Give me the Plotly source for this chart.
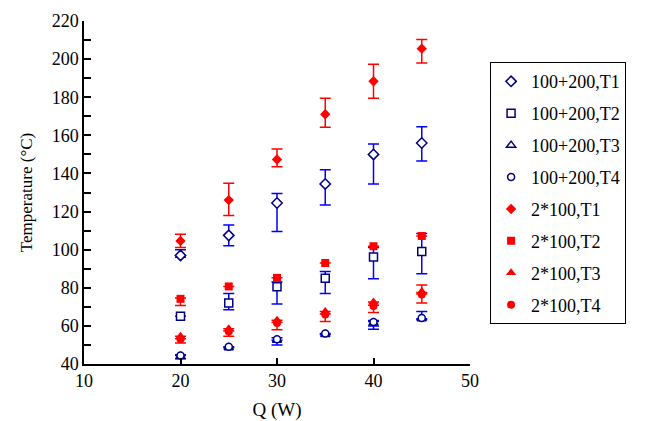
import plotly.graph_objects as go

Q = [20, 25, 30, 35, 40, 45]

# 100+200 series (blue)
b_T1 = [97, 107.5, 124.5, 134.5, 150, 156]
b_T1_plus = [3, 5.5, 5, 7.5, 5.5, 8.5]
b_T1_minus = [1, 5.5, 15, 11, 15.5, 9.5]

b_T2 = [65, 72, 80.5, 85, 96.2, 99]
b_T2_plus = [None, 5, 2.5, 3.5, 5, 9.5]
b_T2_minus = [None, 3.5, 9, 8, 11.5, 11.7]

b_T3 = [44, 48.5, 52.5, 55.5, 61.5, 63.8]
b_T3_plus = [0.8, None, None, None, 0.8, None]
b_T3_minus = [1.2, None, None, None, 3.3, None]

b_T4 = [44.5, 49, 53, 56, 62, 64.2]
b_T4_plus = [None, None, 0.8, None, 0.8, 3.4]
b_T4_minus = [None, None, 3, None, 2, 0.8]

# 2*100 series (red)
r_T1 = [104.6, 126, 147.3, 171.1, 188.4, 205.5]
r_T1_plus = [3.5, 8.8, 5.5, 8.3, 8.9, 4.8]
r_T1_minus = [3.5, 8.1, 3.8, 6.9, 9, 7.5]

r_T2 = [74.2, 80.7, 85.2, 93, 101.8, 107.2]
r_T2_plus = [0.5, None, None, None, None, None]
r_T2_minus = [3.5, None, None, None, None, None]

r_T3 = [54.5, 58.5, 63, 67.5, 72.5, 78]
r_T3_plus = [None, None, None, None, None, 3.5]
r_T3_minus = [None, None, None, None, None, 0.5]

r_T4 = [53, 57, 61.5, 66, 70.5, 76.5]
r_T4_plus = [0.3, 0.3, 0.3, 0.3, 0.3, 0.3]
r_T4_minus = [2, 2.5, 3.5, 3.7, 3.5, 4.5]

x_ticks = [10, 20, 30, 40, 50]
y_ticks = [40, 60, 80, 100, 120, 140, 160, 180, 200, 220]

NAVY = "#000080"
BLUE = "#0000FF"
RED = "#FF0000"

series = [
    ("100+200,T1", b_T1, b_T1_plus, b_T1_minus, "diamond", 8, True),
    ("100+200,T2", b_T2, b_T2_plus, b_T2_minus, "square", 8, True),
    ("100+200,T3", b_T3, b_T3_plus, b_T3_minus, "triangle-up", 8, True),
    ("100+200,T4", b_T4, b_T4_plus, b_T4_minus, "circle", 7, True),
    ("2*100,T1", r_T1, r_T1_plus, r_T1_minus, "diamond", 8, False),
    ("2*100,T2", r_T2, r_T2_plus, r_T2_minus, "square", 8, False),
    ("2*100,T3", r_T3, r_T3_plus, r_T3_minus, "triangle-up", 9, False),
    ("2*100,T4", r_T4, r_T4_plus, r_T4_minus, "circle", 8, False),
]

fig = go.Figure()
for i, (name, y, plus, minus, sym, size, blue) in enumerate(series):
    if blue:
        marker = dict(symbol=sym, size=size, color="white",
                      line=dict(color=NAVY, width=1.5))
        ecol = BLUE
    else:
        marker = dict(symbol=sym, size=size, color=RED,
                      line=dict(color=RED, width=0))
        ecol = RED
    fig.add_trace(go.Scatter(
        x=Q, y=y, name=name, mode="markers", marker=marker,
        legendgroup="g%d" % i,
        error_y=dict(type="data", symmetric=False, array=plus,
                     arrayminus=minus, color=ecol, thickness=1.5, width=5.5),
    ))

font = "Liberation Serif"
fig.update_layout(
    width=649, height=421,
    margin=dict(l=83.5, r=179, t=20.7, b=56.7, autoexpand=False),
    paper_bgcolor="white", plot_bgcolor="white",
    font=dict(family=font, size=18, color="black"),
    showlegend=True,
    legend=dict(x=1.052, y=0.88, xanchor="left", yanchor="top",
                bordercolor="black", borderwidth=1, bgcolor="white",
                font=dict(family=font, size=18, color="black"),
                traceorder="grouped", tracegroupgap=5.5),
    xaxis=dict(range=[10, 50], tickvals=x_ticks, ticks="inside", ticklen=6,
               tickwidth=1.5, tickcolor="black", showline=True, linecolor="black",
               linewidth=1.5, showgrid=False, zeroline=False, automargin=False,
               title=dict(text="Q (W)", font=dict(family=font, size=19), standoff=12),
               tickfont=dict(family=font, size=18)),
    yaxis=dict(range=[40, 220], tickvals=y_ticks, ticks="inside", ticklen=7,
               tickwidth=1.5, tickcolor="black", showline=True, linecolor="black",
               linewidth=1.5, showgrid=False, zeroline=False, automargin=False,
               minor=dict(dtick=10, ticks="inside", ticklen=7, tickwidth=1.5,
                          tickcolor="black", showgrid=False),
               title=dict(text="Temperature (\u00b0C)", font=dict(family=font, size=17), standoff=15),
               tickfont=dict(family=font, size=18)),
)

fig.write_html("out.html")
